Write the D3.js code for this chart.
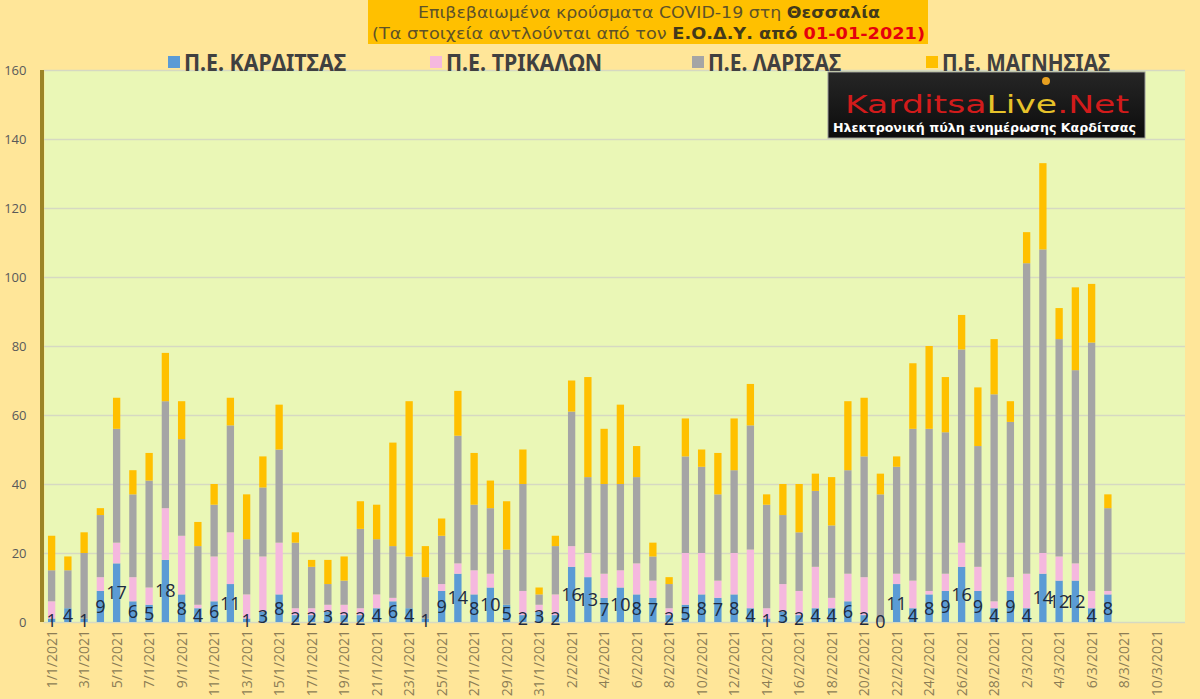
<!DOCTYPE html>
<html>
<head>
<meta charset="utf-8">
<script src="https://cdn.jsdelivr.net/npm/d3@7"></script>
<style>
  body { margin: 0; background: #FFE699; }
  svg { display: block; }
</style>
</head>
<body>
<div id="chart"></div>
<script>
// categories: one per day, 1/1/2021 .. 11/3/2021 (last days have no data yet)
var dates = [
  '1/1/2021','2/1/2021','3/1/2021','4/1/2021','5/1/2021','6/1/2021','7/1/2021','8/1/2021','9/1/2021','10/1/2021',
  '11/1/2021','12/1/2021','13/1/2021','14/1/2021','15/1/2021','16/1/2021','17/1/2021','18/1/2021','19/1/2021','20/1/2021',
  '21/1/2021','22/1/2021','23/1/2021','24/1/2021','25/1/2021','26/1/2021','27/1/2021','28/1/2021','29/1/2021','30/1/2021',
  '31/1/2021','1/2/2021','2/2/2021','3/2/2021','4/2/2021','5/2/2021','6/2/2021','7/2/2021','8/2/2021','9/2/2021',
  '10/2/2021','11/2/2021','12/2/2021','13/2/2021','14/2/2021','15/2/2021','16/2/2021','17/2/2021','18/2/2021','19/2/2021',
  '20/2/2021','21/2/2021','22/2/2021','23/2/2021','24/2/2021','25/2/2021','26/2/2021','27/2/2021','28/2/2021','1/3/2021',
  '2/3/2021','3/3/2021','4/3/2021','5/3/2021','6/3/2021','7/3/2021','8/3/2021','9/3/2021','10/3/2021','11/3/2021'
];

// daily cases per regional unit
var karditsa = [
  1,4,1,9,17,6,5,18,8,4,6,11,1,3,8,2,2,3,2,2,4,6,4,1,9,14,8,10,5,2,3,
  2,16,13,7,10,8,7,2,5,8,7,8,4,1,3,2,4,4,6,2,0,11,4,8,9,16,9,4,
  9,4,14,12,12,4,8
];
var trikala = [
  5,0,0,4,6,7,5,15,17,1,13,15,7,16,15,2,2,2,3,2,4,1,0,0,2,3,7,4,0,7,2,
  6,6,7,7,5,9,5,2,15,12,5,12,17,3,8,7,12,3,8,11,0,3,8,1,5,7,7,2,
  4,10,6,7,5,5,1
];
var larisa = [
  9,11,19,18,33,24,31,31,28,17,15,31,16,20,27,19,12,6,7,23,16,15,15,12,14,37,19,19,16,31,3,
  14,39,22,26,25,25,7,7,28,25,25,24,36,30,20,17,22,21,30,35,37,31,44,47,41,56,35,60,
  45,90,88,63,56,72,24
];
var magnesia = [
  10,4,6,2,9,7,8,14,11,7,6,8,13,9,13,3,2,7,7,8,10,30,45,9,5,13,15,8,14,10,2,
  3,9,29,16,23,9,4,2,11,5,12,15,12,3,9,14,5,14,20,17,6,3,19,24,16,10,17,16,
  6,9,25,9,24,17,4
];

var seriesKeys = ['karditsa', 'trikala', 'larisa', 'magnesia'];
var seriesNames = ['Π.Ε. ΚΑΡΔΙΤΣΑΣ', 'Π.Ε. ΤΡΙΚΑΛΩΝ', 'Π.Ε. ΛΑΡΙΣΑΣ', 'Π.Ε. ΜΑΓΝΗΣΙΑΣ'];
var seriesColors = ['#5B9BD5', '#F5B8DE', '#A5A5A5', '#FFC000'];
var yTicks = [0, 20, 40, 60, 80, 100, 120, 140, 160];

var svgWidth = 1200;
var svgHeight = 699;
var plot = { left: 43.5, right: 1185, top: 70, bottom: 622 };

var svg = d3.select('#chart')
  .append('svg')
  .attr('width', svgWidth)
  .attr('height', svgHeight);

svg.append('rect')
  .attr('width', svgWidth)
  .attr('height', svgHeight)
  .attr('fill', '#FFE699');

// build rows for d3.stack (days without data are left out of the bars)
var rows = karditsa.map(function(v, i) {
  return { date: dates[i], karditsa: v, trikala: trikala[i], larisa: larisa[i], magnesia: magnesia[i] };
});

var xScale = d3.scaleBand()
  .domain(dates)
  .range([plot.left, plot.left + dates.length * 16.25])
  .paddingInner(0.55)
  .paddingOuter(0.275);

var yScale = d3.scaleLinear()
  .domain([0, 160])
  .range([plot.bottom, plot.top]);

// plot background
svg.append('rect')
  .attr('x', plot.left + 1)
  .attr('y', plot.top)
  .attr('width', plot.right - plot.left - 1)
  .attr('height', plot.bottom - plot.top)
  .attr('fill', '#EAF7B6');

// y axis + gridlines
var yAxis = d3.axisLeft(yScale)
  .tickValues(yTicks)
  .tickSize(-(plot.right - plot.left))
  .tickPadding(17);

var yAxisGroup = svg.append('g')
  .attr('class', 'y-axis')
  .attr('transform', `translate(${plot.left}, 0)`)
  .call(yAxis);

yAxisGroup.select('.domain').remove();
yAxisGroup.selectAll('line')
  .attr('stroke', '#D6D9C2')
  .attr('stroke-width', 1.5);
yAxisGroup.selectAll('text')
  .attr('fill', '#595959')
  .style('font-family', '"Open Sans", sans-serif')
  .style('font-size', '13px');

// thick olive axis line on the left
svg.append('line')
  .attr('x1', 42)
  .attr('x2', 42)
  .attr('y1', plot.top)
  .attr('y2', plot.bottom)
  .attr('stroke', '#9C8426')
  .attr('stroke-width', 4);

// stacked bars
var stacked = d3.stack().keys(seriesKeys)(rows);

svg.append('g')
  .selectAll('g')
  .data(stacked)
  .enter()
  .append('g')
  .attr('fill', (d, i) => seriesColors[i])
  .selectAll('rect')
  .data(d => d)
  .enter()
  .append('rect')
  .attr('x', d => xScale(d.data.date))
  .attr('y', d => yScale(d[1]))
  .attr('width', xScale.bandwidth())
  .attr('height', d => yScale(d[0]) - yScale(d[1]));

// x axis labels, every second day
var xAxis = d3.axisBottom(xScale)
  .tickValues(dates.filter((d, i) => i % 2 === 0))
  .tickSize(0);

var xAxisGroup = svg.append('g')
  .attr('class', 'x-axis')
  .attr('transform', `translate(0, ${plot.bottom})`)
  .call(xAxis);

xAxisGroup.select('.domain').remove();
xAxisGroup.selectAll('text')
  .attr('transform', 'rotate(-90)')
  .attr('x', -8)
  .attr('y', 0)
  .attr('dy', '0.35em')
  .attr('text-anchor', 'end')
  .attr('fill', '#8C7D55')
  .style('font-family', '"Open Sans", sans-serif')
  .style('font-size', '14px');

// Karditsa value labels, centred on the blue segment
svg.append('g')
  .selectAll('text')
  .data(rows)
  .enter()
  .append('text')
  .attr('x', d => xScale(d.date) + xScale.bandwidth() / 2)
  .attr('y', d => yScale(d.karditsa / 2))
  .attr('dy', '0.36em')
  .attr('text-anchor', 'middle')
  .attr('fill', '#1E2B40')
  .style('font-family', '"Open Sans", sans-serif')
  .style('font-size', '18px')
  .text(d => d.karditsa);

// title box
svg.append('rect')
  .attr('x', 368)
  .attr('y', 0)
  .attr('width', 560)
  .attr('height', 44)
  .attr('fill', '#FFC000');

var title1 = svg.append('text')
  .attr('x', 418)
  .attr('y', 18)
  .attr('textLength', 462)
  .attr('lengthAdjust', 'spacingAndGlyphs')
  .attr('fill', '#5E5228')
  .style('font-family', '"DejaVu Sans", sans-serif')
  .style('font-size', '16.5px');
title1.append('tspan').text('Επιβεβαιωμένα κρούσματα COVID-19 στη ');
title1.append('tspan').attr('font-weight', 'bold').attr('fill', '#43391A').text('Θεσσαλία');

var title2 = svg.append('text')
  .attr('x', 372)
  .attr('y', 39)
  .attr('textLength', 553)
  .attr('lengthAdjust', 'spacingAndGlyphs')
  .attr('fill', '#5E5228')
  .style('font-family', '"DejaVu Sans", sans-serif')
  .style('font-size', '16.5px');
title2.append('tspan').text('(Τα στοιχεία αντλούνται από τον ');
title2.append('tspan').attr('font-weight', 'bold').attr('fill', '#43391A').text('Ε.Ο.Δ.Υ. από ');
title2.append('tspan').attr('font-weight', 'bold').attr('fill', '#E5000D').text('01-01-2021)');

// legend
var legendX = [168, 430, 692, 926];
var legendLen = [162, 156, 133, 168];

var legend = svg.append('g')
  .selectAll('g')
  .data(seriesNames)
  .enter()
  .append('g')
  .attr('transform', (d, i) => `translate(${legendX[i]}, 0)`);

legend.append('rect')
  .attr('x', 0)
  .attr('y', 56)
  .attr('width', 12)
  .attr('height', 12)
  .attr('fill', (d, i) => seriesColors[i]);

legend.append('text')
  .attr('x', 16)
  .attr('y', 71)
  .attr('fill', '#404040')
  .attr('font-weight', 'bold')
  .attr('textLength', (d, i) => legendLen[i])
  .attr('lengthAdjust', 'spacingAndGlyphs')
  .style('font-family', '"Noto Sans", sans-serif')
  .style('font-size', '23px')
  .text(d => d);

// site logo
var logo = svg.append('g');
var grad = svg.append('defs').append('linearGradient')
  .attr('id', 'logoGrad')
  .attr('x1', 0).attr('x2', 0).attr('y1', 0).attr('y2', 1);
grad.append('stop').attr('offset', '0%').attr('stop-color', '#262626');
grad.append('stop').attr('offset', '100%').attr('stop-color', '#0c0c0c');

logo.append('rect')
  .attr('x', 828)
  .attr('y', 72)
  .attr('width', 317)
  .attr('height', 66)
  .attr('fill', 'url(#logoGrad)')
  .attr('stroke', '#9a9a9a')
  .attr('stroke-width', 1);

logo.append('circle')
  .attr('cx', 1046)
  .attr('cy', 81)
  .attr('r', 4)
  .attr('fill', '#E8A020');

var logoText = logo.append('text')
  .attr('x', 845)
  .attr('y', 113)
  .attr('textLength', 284)
  .attr('lengthAdjust', 'spacingAndGlyphs')
  .style('font-family', '"DejaVu Sans", sans-serif')
  .style('font-size', '25px');
logoText.append('tspan').attr('fill', '#D21B1B').text('Karditsa');
logoText.append('tspan').attr('fill', '#E6C22A').text('Live');
logoText.append('tspan').attr('fill', '#D21B1B').text('.Net');

logo.append('text')
  .attr('x', 833)
  .attr('y', 132)
  .attr('textLength', 303)
  .attr('lengthAdjust', 'spacingAndGlyphs')
  .attr('fill', '#ffffff')
  .attr('font-weight', 'bold')
  .style('font-family', '"DejaVu Sans", sans-serif')
  .style('font-size', '12px')
  .text('Ηλεκτρονική πύλη ενημέρωσης Καρδίτσας');
</script>
</body>
</html>
